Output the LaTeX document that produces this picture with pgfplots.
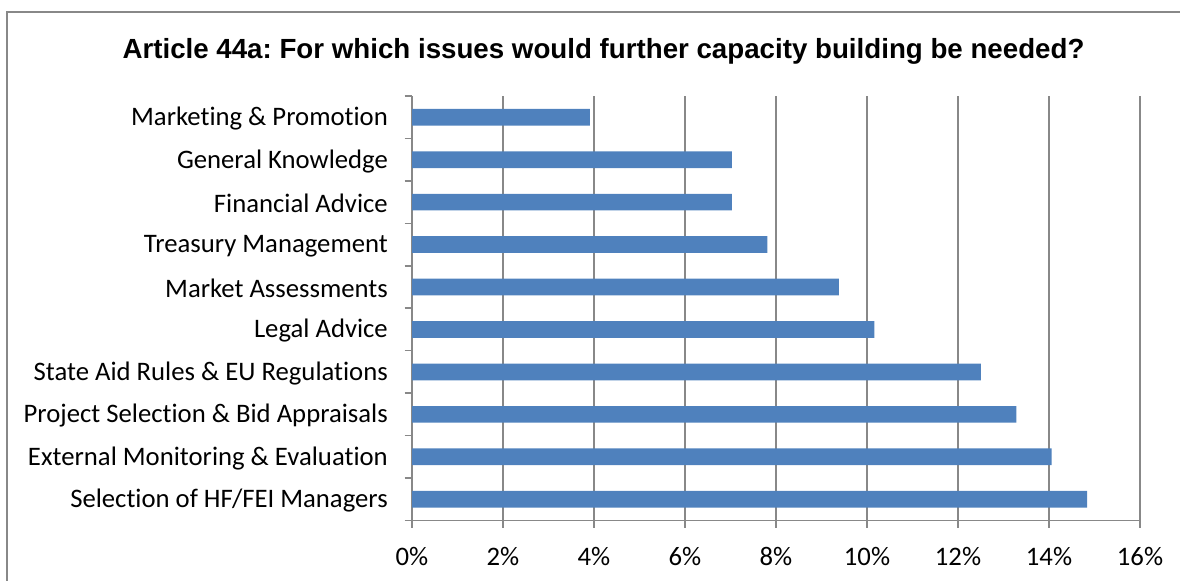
\documentclass[border=0pt]{standalone}
\usepackage{pgfplots}
\pgfplotsset{compat=1.18}
\usepackage{fontspec}
\setmainfont{Carlito}[Ligatures=NoCommon]
\newfontfamily\titlefont{Liberation Sans}
\definecolor{barblue}{HTML}{4F81BD}
\definecolor{gridgray}{HTML}{888888}
\frenchspacing
\begin{document}
\begin{tikzpicture}[x=1bp,y=1bp]
\useasboundingbox (0,0) rectangle (1180,581);
\clip (0,0) rectangle (1180,581);
% chart frame (runs past the right and bottom edges)
\draw[gridgray, line width=1.5bp] (7,-10) -- (7,569) -- (1200,569);
\node[anchor=base, inner sep=0pt, font=\titlefont\bfseries\fontsize{27.8}{32}\selectfont] at (603.5,522) {Article 44a: For which issues would further capacity building be needed?};
\begin{axis}[
  at={(412bp,60.5bp)}, anchor=south west,
  scale only axis, width=728bp, height=424.5bp,
  xbar, bar width=16.7bp,
  xmin=0, xmax=16, ymin=-0.5, ymax=9.5,
  axis x line*=bottom, axis y line*=left,
  axis line style={gridgray, line width=1.5bp},
  tick align=outside, major tick length=7.5bp,
  tick style={gridgray, line width=1.5bp},
  xtick={0,2,...,16},
  xticklabels={0\%,2\%,4\%,6\%,8\%,10\%,12\%,14\%,16\%},
  xmajorgrids, grid style={gridgray, line width=1.5bp},
  ytick={-0.5,0.5,...,9.5}, yticklabels={},
  extra y ticks={0,...,9},
  extra y tick labels={Selection of HF/FEI Managers, External Monitoring \& Evaluation, Project Selection \& Bid Appraisals, State Aid Rules \& EU Regulations, Legal Advice, Market Assessments, Treasury Management, Financial Advice, General Knowledge, Marketing \& Promotion},
  extra y tick style={major tick length=0pt, grid=none,
    yticklabel style={inner sep=0pt, xshift=-24bp, yshift=-1.5bp}},
  tick label style={font=\fontsize{26.8}{30}\selectfont},
  xticklabel style={yshift=-16bp},
]
\addplot[fill=barblue, draw=none] coordinates {
  (14.84,0) (14.06,1) (13.28,2) (12.50,3) (10.16,4)
  (9.38,5) (7.81,6) (7.03,7) (7.03,8) (3.91,9)
};
\end{axis}
\end{tikzpicture}
\end{document}
